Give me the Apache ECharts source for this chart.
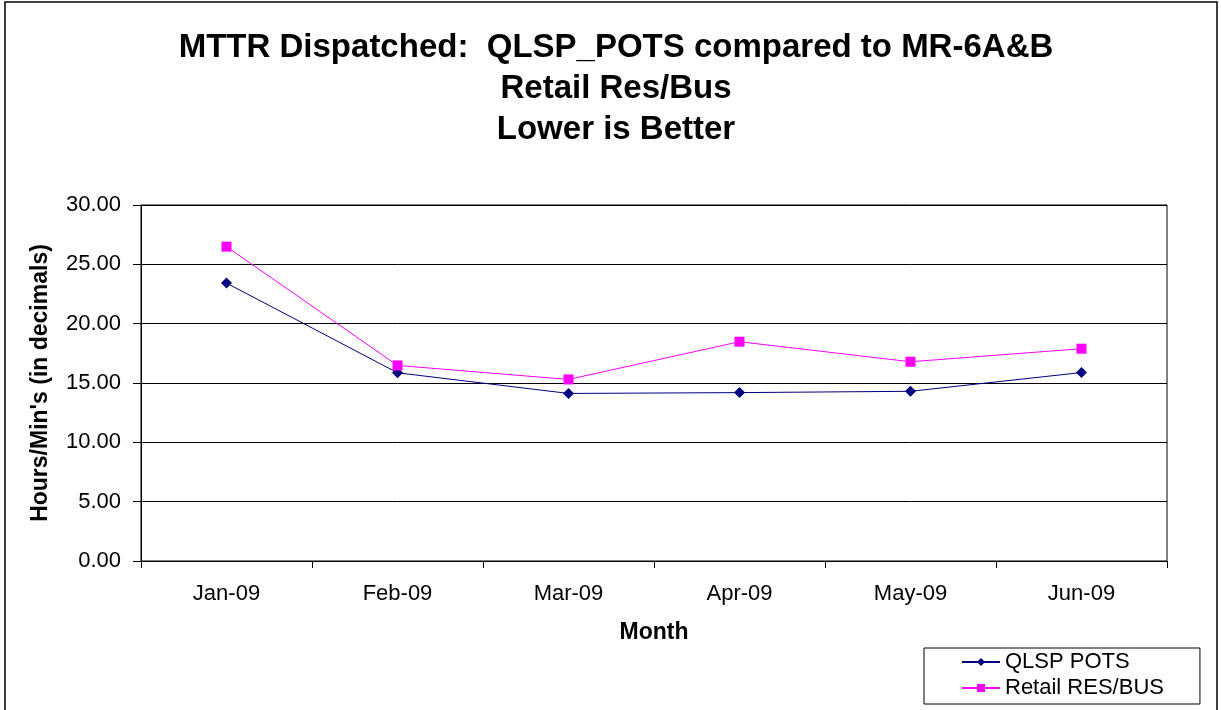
<!DOCTYPE html>
<html>
<head>
<meta charset="utf-8">
<script src="https://cdn.jsdelivr.net/npm/echarts@6/dist/echarts.min.js"></script>
<style>
  html, body { margin: 0; padding: 0; background: #fff; }
  #chart { width: 1221px; height: 710px; }
</style>
</head>
<body>
<div id="chart"></div>
<script>
var months = ['Jan-09', 'Feb-09', 'Mar-09', 'Apr-09', 'May-09', 'Jun-09'];
var qlspPots = [23.42, 15.86, 14.12, 14.19, 14.30, 15.88];
var retailResBus = [26.49, 16.48, 15.30, 18.48, 16.79, 17.89];
var yTicks = { min: 0, max: 30, step: 5 };

var myChart = echarts.init(document.getElementById('chart'));
var font = 'Arial, "Liberation Sans", sans-serif';
var option = {
    backgroundColor: '#fff',
    animation: false,
    graphic: [{
        type: 'rect',
        shape: { x: 5, y: 2, width: 1212, height: 740 },
        style: { fill: 'none', stroke: '#000', lineWidth: 1.5 },
        silent: true
    }, {
        // chart title, centred a little right of the canvas like the original
        type: 'text',
        x: 616,
        y: 27,
        silent: true,
        style: {
            text: 'MTTR Dispatched:  QLSP_POTS compared to MR-6A&B\nRetail Res/Bus\nLower is Better',
            align: 'center',
            verticalAlign: 'top',
            fontFamily: font,
            fontSize: 33,
            fontWeight: 'bold',
            lineHeight: 41,
            fill: '#000'
        }
    }],
    legend: {
        orient: 'vertical',
        left: 924,
        top: 648,
        padding: [3, 36, 5, 37],
        itemGap: 4,
        itemWidth: 38,
        itemHeight: 10,
        itemTextGap: 7,
        borderColor: '#000',
        borderWidth: 1,
        textStyle: { fontFamily: font, fontSize: 22, color: '#000' },
        data: ['QLSP POTS', 'Retail RES/BUS']
    },
    grid: {
        left: 141,
        right: 54,
        top: 205,
        bottom: 149,
        show: true,
        borderColor: '#000',
        borderWidth: 1
    },
    xAxis: {
        type: 'category',
        data: months,
        boundaryGap: true,
        name: 'Month',
        nameLocation: 'middle',
        nameGap: 60,
        nameTextStyle: { fontFamily: font, fontSize: 23, fontWeight: 'bold', color: '#000' },
        axisLine: { lineStyle: { color: '#000', width: 1 } },
        axisTick: { show: true, length: 7, lineStyle: { color: '#000' } },
        axisLabel: { fontFamily: font, fontSize: 22, color: '#000', margin: 22 },
        splitLine: { show: false }
    },
    yAxis: {
        type: 'value',
        min: yTicks.min,
        max: yTicks.max,
        interval: yTicks.step,
        name: "Hours/Min's (in decimals)",
        nameLocation: 'middle',
        nameGap: 89,
        nameTextStyle: { fontFamily: font, fontSize: 23, fontWeight: 'bold', color: '#000' },
        axisLine: { show: true, lineStyle: { color: '#000', width: 1 } },
        axisTick: { show: true, length: 8, lineStyle: { color: '#000' } },
        axisLabel: {
            fontFamily: font, fontSize: 22, color: '#000', margin: 20,
            formatter: function (v) { return v.toFixed(2); }
        },
        splitLine: { show: true, lineStyle: { color: '#000', width: 1 } }
    },
    series: [
        {
            name: 'QLSP POTS',
            type: 'line',
            data: qlspPots,
            symbol: 'diamond',
            symbolSize: 11,
            color: '#000080',
            lineStyle: { color: '#000080', width: 1 },
            itemStyle: { color: '#000080' }
        },
        {
            name: 'Retail RES/BUS',
            type: 'line',
            data: retailResBus,
            symbol: 'rect',
            symbolSize: 10,
            color: '#ff00ff',
            lineStyle: { color: '#ff00ff', width: 1 },
            itemStyle: { color: '#ff00ff' }
        }
    ]
};
myChart.setOption(option);
window.addEventListener('resize', function () { myChart.resize(); });
</script>
</body>
</html>
